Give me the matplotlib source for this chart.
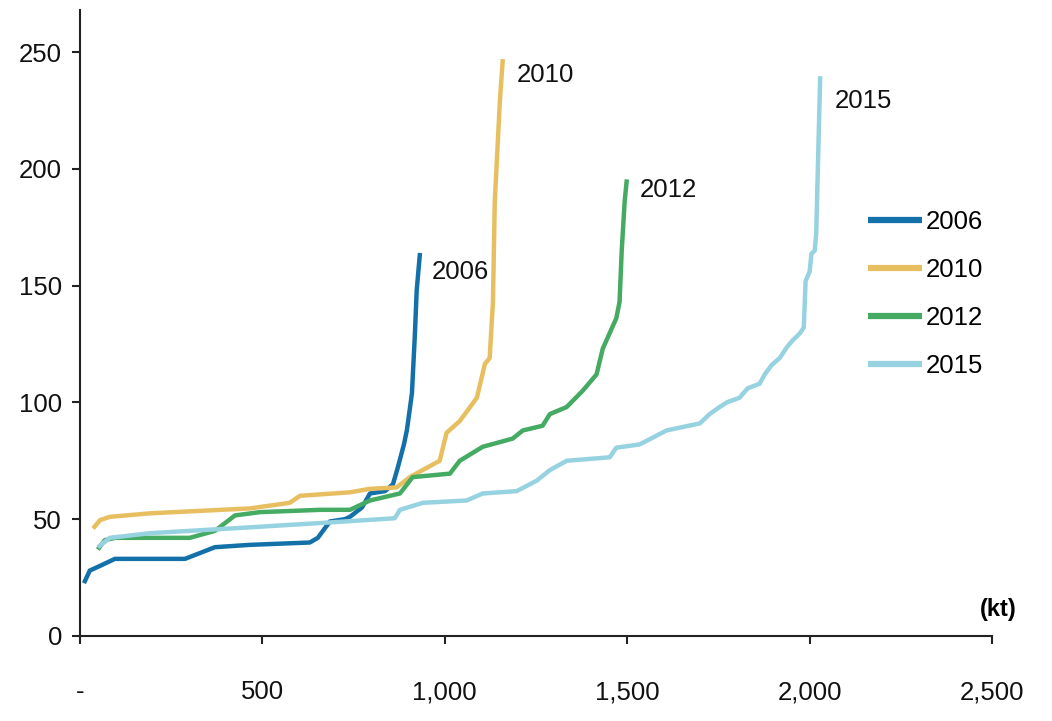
import matplotlib
matplotlib.use('Agg')
import matplotlib.pyplot as plt

plt.rcParams['font.family'] = ['Liberation Sans', 'DejaVu Sans']

# 数据
years = ['2006', '2010', '2012', '2015']
colors = ['#1470a8', '#e8bf60', '#45aa62', '#96d2e0']

x_2006 = [11, 27, 55, 96, 288, 370, 466, 630, 652, 685, 726, 740, 773, 795, 836, 858,
          871, 888, 896, 904, 910, 918, 923, 932]
y_2006 = [22.6, 28, 30, 33, 33, 38, 39, 40, 42, 49, 50, 51, 55, 61, 62, 65,
          72, 82, 88, 97, 104, 129, 148, 164]

x_2010 = [36, 55, 82, 192, 466, 575, 603, 740, 795, 868, 904, 986, 1005, 1041, 1088,
          1110, 1123, 1132, 1137, 1151, 1159]
y_2010 = [46, 49.6, 51, 52.5, 54.6, 57, 60, 61.5, 63, 63.6, 68, 75, 87, 92, 102,
          116.5, 119, 143, 186, 229, 247]

x_2012 = [49, 68, 96, 301, 370, 425, 493, 658, 740, 795, 877, 912, 1014, 1041, 1104,
          1186, 1214, 1268, 1288, 1334, 1378, 1416, 1433, 1470, 1479, 1485, 1493, 1499]
y_2012 = [37, 41, 42, 42, 45, 51.6, 53, 54, 54, 58, 61, 68, 69.5, 75, 81,
          84.5, 88, 90, 95, 98, 105, 112, 123, 136, 143, 165, 186, 195.5]

x_2015 = [49, 82, 192, 466, 685, 863, 877, 940, 1060, 1104, 1197, 1252, 1288, 1334,
          1452, 1470, 1534, 1608, 1699, 1726, 1753, 1773, 1808, 1830, 1863, 1877,
          1896, 1918, 1937, 1953, 1973, 1984, 1989, 2000, 2005, 2014, 2018, 2029]
y_2015 = [38, 42, 44, 46.5, 48.6, 50.4, 54, 57, 58, 61, 62, 66.5, 71, 75,
          76.5, 80.6, 82, 88, 91, 95, 98, 100, 102, 106, 108, 112,
          116, 119, 123.5, 126.5, 129.5, 132, 152, 156, 163.7, 165, 172, 239.7]

# 线尾标签位置
label_x = [964, 1197, 1534, 2068]
label_y = [156, 240, 191, 229]

xs = [x_2006, x_2010, x_2012, x_2015]
ys = [y_2006, y_2010, y_2012, y_2015]

fig = plt.figure(figsize=(10.52, 7.21), dpi=100)
ax = fig.add_axes([0.076, 0.118, 0.867, 0.868])

for x, y, c, yr in zip(xs, ys, colors, years):
    ax.plot(x, y, color=c, lw=3.2, label=yr, solid_capstyle='butt')

for lx, ly, yr in zip(label_x, label_y, years):
    ax.text(lx, ly, yr, fontsize=18.5, va='center', ha='left', color='#111111')

ax.set_xlim(0, 2500)
ax.set_ylim(0, 268)
ax.set_xticks([0, 500, 1000, 1500, 2000, 2500])
ax.set_xticklabels(['-', '500', '1,000', '1,500', '2,000', '2,500'])
ax.set_yticks([0, 50, 100, 150, 200, 250])

for s in ['top', 'right']:
    ax.spines[s].set_visible(False)
for s in ['left', 'bottom']:
    ax.spines[s].set_linewidth(1.5)
    ax.spines[s].set_color('#222222')

ax.tick_params(axis='x', length=6, width=1.5, pad=26, labelsize=18.5, color='#222222',
               labelcolor='#111111')
ax.tick_params(axis='y', length=6, width=1.5, pad=7, labelsize=18.5, color='#222222',
               labelcolor='#111111')

ax.text(1.027, 0.042, '(kt)', transform=ax.transAxes, fontsize=17, fontweight='bold',
        ha='right', va='center')

leg = ax.legend(loc='upper left', bbox_to_anchor=(0.864, 0.68), frameon=False,
                fontsize=18.5, handlelength=2.1, handletextpad=0.15, labelspacing=0.93,
                borderpad=0, borderaxespad=0)
for h in leg.get_lines():
    h.set_linewidth(4.5)

fig.savefig('out.png', dpi=100)
